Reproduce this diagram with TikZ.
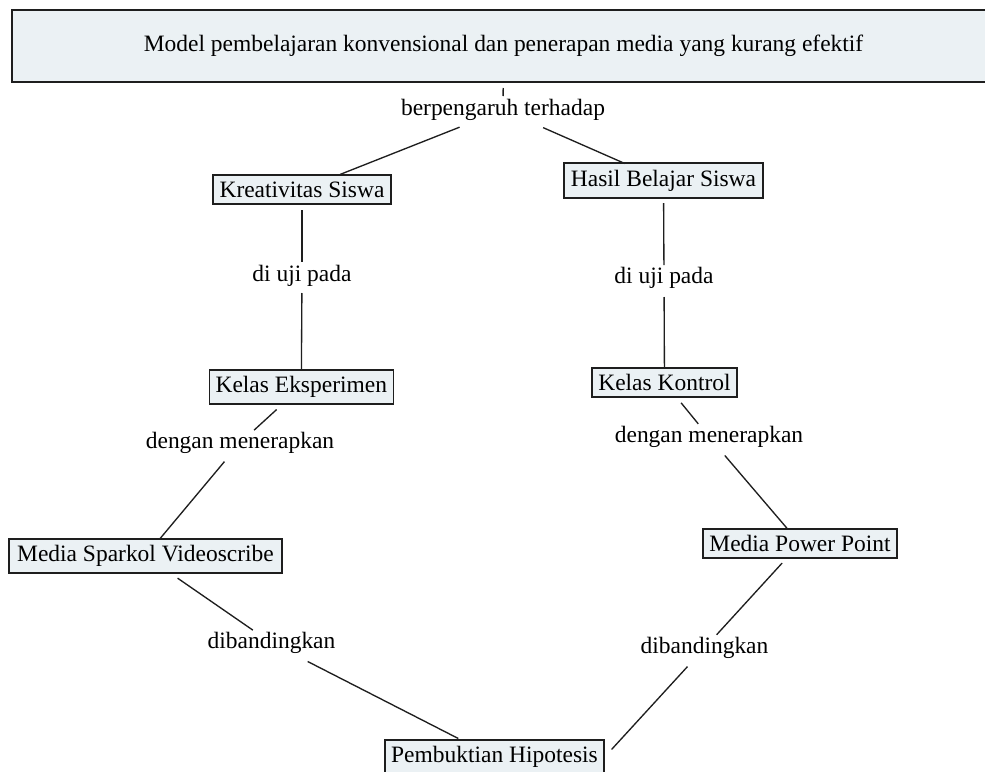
\documentclass[tikz,border=0pt]{standalone}
\usepackage{fontspec}
\setmainfont{Liberation Serif}
\definecolor{boxfill}{HTML}{EBF1F4}
\definecolor{edgeink}{HTML}{1E1E1E}
\begin{document}
\begin{tikzpicture}[x=0.75pt,y=-0.75pt,
  box/.style={draw=edgeink, line width=1pt, fill=boxfill, inner sep=0pt,
    font=\fontsize{17.6}{21}\selectfont},
  lbl/.style={inner sep=0pt, font=\fontsize{17.6}{21}\selectfont},
  conn/.style={draw=edgeink, line width=1pt},
  cgap/.style 2 args={shorten <=#1, shorten >=#2}]
\useasboundingbox (0,0) rectangle (985,771);
\fill[white] (0,0) rectangle (985,771);

% boxes
\node[box, line width=1.3pt, minimum width=737.25pt, minimum height=54pt] (top) at (503.5,46)
  {Model pembelajaran konvensional dan penerapan media yang kurang efektif};
\node[box, minimum width=133.5pt, minimum height=21.75pt] (ks) at (302,189.5) {Kreativitas Siswa};
\node[box, minimum width=149.25pt, minimum height=26.25pt] (hb) at (663.5,180.5) {Hasil Belajar Siswa};
\node[box, minimum width=138pt, minimum height=25.5pt] (ke) at (301.3,387) {Kelas Eksperimen};
\node[box, minimum width=108.75pt, minimum height=21.75pt] (kk) at (664.5,382.5) {Kelas Kontrol};
\node[box, minimum width=204.75pt, minimum height=25.5pt] (ms) at (145.5,556) {Media Sparkol Videoscribe};
\node[box, minimum width=145.5pt, minimum height=21.75pt] (mp) at (800,543.5) {Media Power Point};
\node[box, minimum width=164.25pt, minimum height=25.5pt] (ph) at (494.5,757) {Pembuktian Hipotesis};

% labels
\node[lbl] (l0) at (503,110) {berpengaruh terhadap};
\node[lbl] (l1) at (302,276) {di uji pada};
\node[lbl] (l2) at (664,278) {di uji pada};
\node[lbl] (l3) at (240,443) {dengan menerapkan};
\node[lbl] (l4) at (709,437) {dengan menerapkan};
\node[lbl] (l5) at (271.5,643) {dibandingkan};
\node[lbl] (l6) at (704.5,648) {dibandingkan};

% connectors
\draw[conn, cgap={31.5pt}{10.5pt}] (top.center) -- (l0.center);
\draw[conn, cgap={35pt}{30.75pt}] (l0.center) -- (ks.center);
\draw[conn, cgap={32.9pt}{31.7pt}] (l0.center) -- (hb.center);
\draw[conn, cgap={15.4pt}{10.5pt}] (ks.center) -- (l1.center);
\draw[conn, cgap={12.75pt}{12.75pt}] (l1.center) -- (ke.center);
\draw[conn, cgap={16.9pt}{9.75pt}] (hb.center) -- (l2.center);
\draw[conn, cgap={14.25pt}{10.9pt}] (l2.center) -- (kk.center);
\draw[conn, cgap={25.1pt}{14.3pt}] (ke.center) -- (l3.center);
\draw[conn, cgap={18.2pt}{16.2pt}] (l3.center) -- (ms.center);
\draw[conn, cgap={29.25pt}{17pt}] (ms.center) -- (l5.center);
\draw[conn, cgap={30.5pt}{30.5pt}] (l5.center) -- (ph.center);
\draw[conn, cgap={19.7pt}{12.75pt}] (kk.center) -- (l4.center);
\draw[conn, cgap={18.2pt}{14.6pt}] (l4.center) -- (mp.center);
\draw[conn, cgap={19.9pt}{13.5pt}] (mp.center) -- (l6.center);
\draw[conn, cgap={18.9pt}{7.7pt}] (l6.center) -- (ph.east);
\end{tikzpicture}
\end{document}
